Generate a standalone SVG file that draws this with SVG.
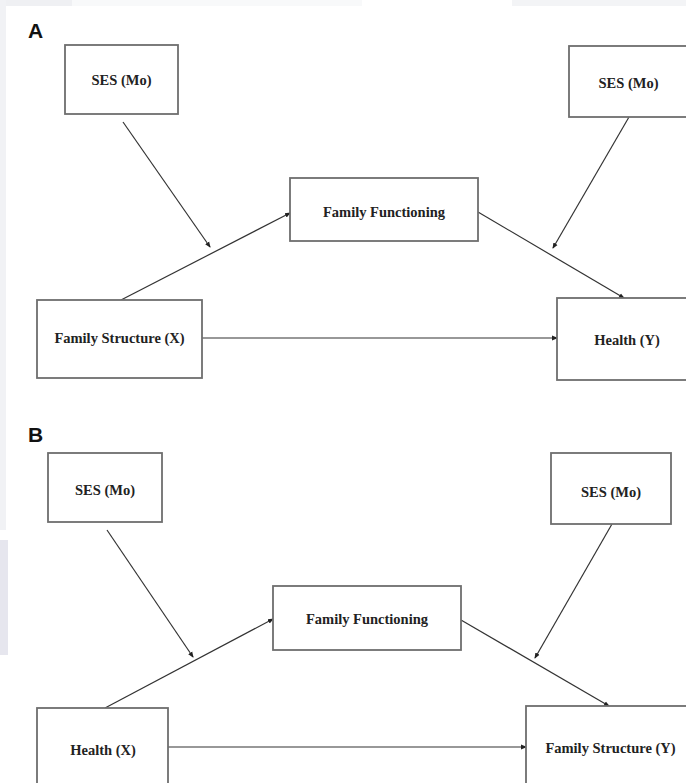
<svg xmlns="http://www.w3.org/2000/svg" width="686" height="783" viewBox="0 0 686 783">
<defs>
<marker id="ah" markerWidth="6" markerHeight="6" refX="5" refY="3" orient="auto" markerUnits="userSpaceOnUse">
<path d="M0,0.6 L6,3 L0,5.4 Z" fill="#222"/>
</marker>
<style>
.box{fill:#fff;stroke:#6e6e6e;stroke-width:1.8}
.lbl{font-family:"Liberation Serif","Times New Roman",serif;font-weight:bold;font-size:14.5px;fill:#222;text-anchor:middle}
.panel{font-family:"Liberation Sans",Arial,sans-serif;font-weight:bold;font-size:21px;fill:#111}
.edge{stroke:#333;stroke-width:1.2;fill:none;marker-end:url(#ah)}
</style>
</defs>
<rect x="0" y="0" width="686" height="783" fill="#fff"/>
<rect x="0" y="0" width="72" height="6" fill="#eff0f3"/>
<rect x="72" y="0" width="290" height="6" fill="#f8f9fa"/>
<rect x="512" y="0" width="174" height="6" fill="#f3f4f6"/>
<rect x="0" y="0" width="6" height="530" fill="#f1f2f5"/>
<rect x="0" y="540" width="8" height="115" fill="#e6e6ee"/>

<text class="panel" x="28" y="38">A</text>
<text class="panel" x="28" y="442">B</text>

<g id="connectors">
<line class="edge" x1="123" y1="122" x2="210" y2="247"/>
<line class="edge" x1="121" y1="300" x2="290" y2="213"/>
<line class="edge" x1="202" y1="338" x2="557" y2="338"/>
<line class="edge" x1="478" y1="212" x2="624" y2="298"/>
<line class="edge" x1="629" y1="117" x2="553" y2="248"/>

<line class="edge" x1="107" y1="530" x2="193" y2="657"/>
<line class="edge" x1="105" y1="708" x2="273" y2="619"/>
<line class="edge" x1="168" y1="747" x2="526" y2="747"/>
<line class="edge" x1="461" y1="620" x2="609" y2="706"/>
<line class="edge" x1="612" y1="524" x2="535" y2="658"/>
</g>

<g id="a-ses-left"><rect class="box" x="65" y="45" width="113" height="69"/><text class="lbl" x="121.5" y="85">SES (Mo)</text></g>
<g id="a-ses-right"><rect class="box" x="569" y="46" width="120" height="71"/><text class="lbl" x="628.5" y="88">SES (Mo)</text></g>
<g id="a-family-functioning"><rect class="box" x="290" y="178" width="188" height="63"/><text class="lbl" x="384" y="217">Family Functioning</text></g>
<g id="a-family-structure"><rect class="box" x="37" y="300" width="165" height="78"/><text class="lbl" x="119.5" y="343">Family Structure (X)</text></g>
<g id="a-health"><rect class="box" x="557" y="298" width="140" height="82"/><text class="lbl" x="627" y="345">Health (Y)</text></g>

<g id="b-ses-left"><rect class="box" x="48" y="453" width="114" height="69"/><text class="lbl" x="105" y="495">SES (Mo)</text></g>
<g id="b-ses-right"><rect class="box" x="551" y="453" width="120" height="71"/><text class="lbl" x="611" y="497">SES (Mo)</text></g>
<g id="b-family-functioning"><rect class="box" x="273" y="586" width="188" height="64"/><text class="lbl" x="367" y="624">Family Functioning</text></g>
<g id="b-health"><rect class="box" x="37" y="708" width="131" height="90"/><text class="lbl" x="103" y="755">Health (X)</text></g>
<g id="b-family-structure"><rect class="box" x="526" y="706" width="170" height="90"/><text class="lbl" x="610.5" y="753">Family Structure (Y)</text></g>
</svg>
